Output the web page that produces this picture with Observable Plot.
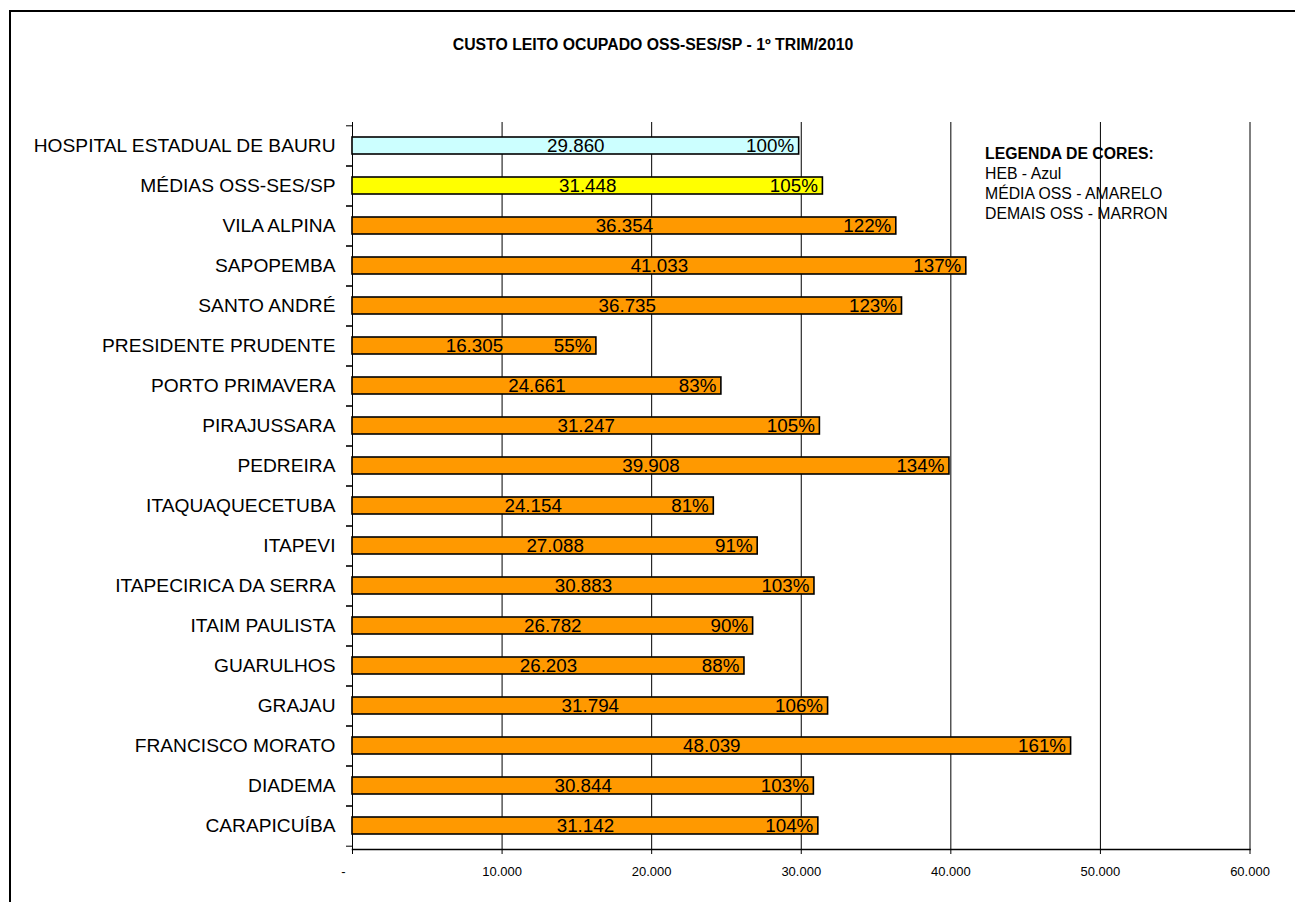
<!DOCTYPE html>
<html>
<head>
<meta charset="utf-8">
<script src="https://cdn.jsdelivr.net/npm/d3@7"></script>
<script src="https://cdn.jsdelivr.net/npm/@observablehq/plot@0.6"></script>
<style>
  html, body { margin: 0; padding: 0; background: #fff; overflow: hidden; }
  body { width: 1295px; height: 902px; position: relative; font-family: "Liberation Sans", Arial, sans-serif; }
  #frame { position: absolute; left: 9px; top: 10px; width: 1400px; height: 1000px; border: 2px solid #000; box-sizing: border-box; }
  #title { position: absolute; left: 0; width: 1306px; top: 36px; text-align: center; font-weight: bold; font-size: 15.8px; color: #000; }
  #legend { position: absolute; left: 985px; top: 144px; font-size: 15.8px; line-height: 20px; color: #000; z-index: 2; }
  #legend .h { font-weight: bold; }
  #chart { position: absolute; left: 0; top: 0; }
</style>
</head>
<body>
<div id="frame"></div>
<div id="chart"></div>
<div id="title"></div>
<div id="legend"></div>
<script>
const chartTitle = "CUSTO LEITO OCUPADO OSS-SES/SP - 1º TRIM/2010";
const legendTitle = "LEGENDA DE CORES:";
const legendLines = ["HEB - Azul", "MÉDIA OSS - AMARELO", "DEMAIS OSS - MARRON"];

const categories = [
  "HOSPITAL ESTADUAL DE BAURU", "MÉDIAS OSS-SES/SP", "VILA ALPINA", "SAPOPEMBA",
  "SANTO ANDRÉ", "PRESIDENTE PRUDENTE", "PORTO PRIMAVERA", "PIRAJUSSARA",
  "PEDREIRA", "ITAQUAQUECETUBA", "ITAPEVI", "ITAPECIRICA DA SERRA",
  "ITAIM PAULISTA", "GUARULHOS", "GRAJAU", "FRANCISCO MORATO", "DIADEMA", "CARAPICUÍBA"
];
const values = [29860, 31448, 36354, 41033, 36735, 16305, 24661, 31247, 39908, 24154, 27088, 30883, 26782, 26203, 31794, 48039, 30844, 31142];
const percents = [100, 105, 122, 137, 123, 55, 83, 105, 134, 81, 91, 103, 90, 88, 106, 161, 103, 104];
const groups = ["HEB", "MEDIA", "OSS", "OSS", "OSS", "OSS", "OSS", "OSS", "OSS", "OSS", "OSS", "OSS", "OSS", "OSS", "OSS", "OSS", "OSS", "OSS"];
const groupColors = {HEB: "#CCFFFF", MEDIA: "#FFFF00", OSS: "#FF9900"};
const xTicks = [0, 10000, 20000, 30000, 40000, 50000, 60000];

document.getElementById("title").textContent = chartTitle;
const leg = document.getElementById("legend");
const lh = document.createElement("div"); lh.className = "h"; lh.textContent = legendTitle; leg.appendChild(lh);
legendLines.forEach(t => { const d = document.createElement("div"); d.textContent = t; leg.appendChild(d); });

const data = categories.map((name, i) => ({name, value: values[i], pct: percents[i], group: groups[i]}));

const loc = d3.formatLocale({decimal: ",", thousands: ".", grouping: [3], currency: ["", ""]});
const fmt = loc.format(",d");
const tickFmt = d => d === 0 ? "-\u00a0\u00a0\u00a0\u00a0\u00a0" : fmt(d);

const W = 1295, H = 902, mT = 122, mB = 53, mL = 352, mR = 45.5;
const half = (H - mT - mB) / categories.length / 2;
const font = "Liberation Sans, Arial, sans-serif";

const chart = Plot.plot({
  width: W, height: H,
  marginTop: mT, marginBottom: mB, marginLeft: mL, marginRight: mR,
  style: {fontFamily: font, background: "transparent", color: "#000", overflow: "visible"},
  x: {domain: [0, 60000]},
  y: {domain: categories, paddingInner: 0.58, paddingOuter: 0.29},
  color: {domain: Object.keys(groupColors), range: Object.values(groupColors)},
  marks: [
    Plot.gridX(xTicks, {stroke: "#000", strokeOpacity: 1, strokeWidth: 1}),
    Plot.barX(data, {x: "value", y: "name", fill: "group", stroke: "#000", strokeWidth: 1.6}),
    Plot.text(data, {x: d => d.value / 2, y: "name", text: d => fmt(d.value), fontSize: 18.8, fill: "#000"}),
    Plot.text(data, {x: "value", y: "name", text: d => d.pct + "%", textAnchor: "end", dx: -5, fontSize: 18.8, fill: "#000"}),
    Plot.axisX(xTicks, {tickFormat: tickFmt, tickSize: 5, tickPadding: 12, fontSize: 13, label: null, stroke: "#000"}),
    Plot.frame({anchor: "bottom", stroke: "#000", strokeWidth: 1.5}),
    Plot.axisY({tickSize: 0, tickPadding: 17, fontSize: 19.2, label: null}),
    Plot.axisY({tickSize: 6, tickFormat: () => "", dy: -half, label: null, stroke: "#000"}),
    Plot.axisY({tickSize: 6, tickFormat: () => "", dy: half, label: null, stroke: "#000"})
  ]
});
document.getElementById("chart").appendChild(chart);
</script>
</body>
</html>
